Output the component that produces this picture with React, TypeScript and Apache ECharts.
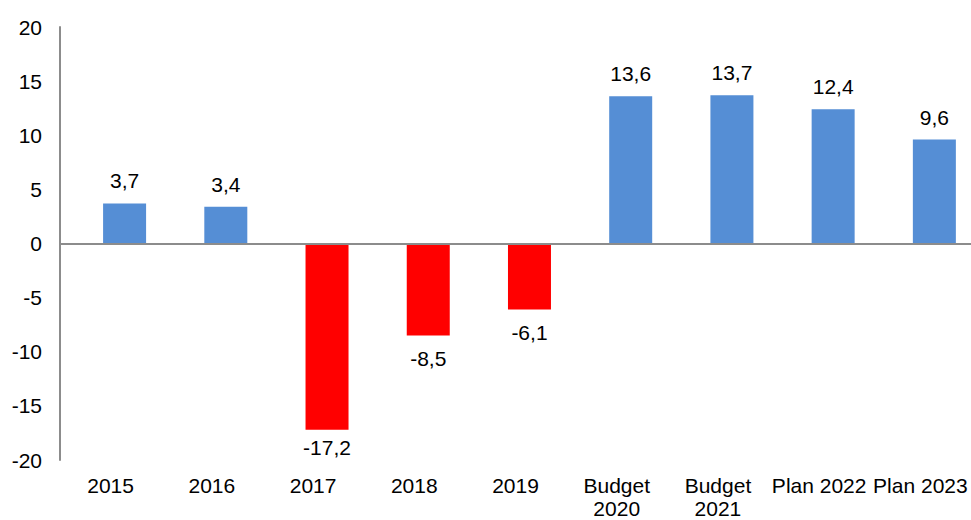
import React, { useEffect, useRef } from "react";
import * as echarts from "echarts";

const categories = ["2015", "2016", "2017", "2018", "2019", "Budget\n2020", "Budget\n2021", "Plan 2022", "Plan 2023"];
const values = [3.7, 3.4, -17.2, -8.5, -6.1, 13.6, 13.7, 12.4, 9.6];
const yMin = -20;
const yMax = 20;
const yInterval = 5;

const POS = "#558ED5";
const NEG = "#FF0000";
const FONT = "Liberation Sans, Arial, sans-serif";
const FS = 21;

export default function App() {
  const ref = useRef<HTMLDivElement>(null);
  useEffect(() => {
    if (!ref.current) return;
    const chart = echarts.init(ref.current, undefined, { renderer: "svg" });
    chart.setOption({
      animation: false,
      grid: { left: 60, right: 0, top: 27, bottom: 60, containLabel: false },
      xAxis: {
        type: "category",
        data: categories,
        axisLine: { show: false },
        axisTick: { show: false },
        axisLabel: {
          color: "#000",
          fontSize: FS,
          fontFamily: FONT,
          margin: 14,
          lineHeight: 23,
          interval: 0,
        },
      },
      yAxis: {
        type: "value",
        min: yMin,
        max: yMax,
        interval: yInterval,
        axisLine: { show: true, lineStyle: { color: "#8c8c8c", width: 2 } },
        axisTick: { show: false },
        splitLine: { show: false },
        axisLabel: { color: "#000", fontSize: FS, fontFamily: FONT, margin: 18 },
      },
      series: [
        {
          type: "bar",
          barWidth: 43,
          barGap: "-35%",
          data: values.map(() => "-"),
          silent: true,
        },
        {
          type: "bar",
          barWidth: 43,
          barGap: "-35%",
          data: values.map((v) => ({
            value: v,
            itemStyle: { color: v >= 0 ? POS : NEG },
            label: {
              show: true,
              position: v >= 0 ? "top" : "bottom",
              distance: v < -15 ? 7 : 12,
              color: "#000",
              fontSize: FS,
              fontFamily: FONT,
              formatter: () => v.toFixed(1).replace(".", ","),
            },
          })),
          markLine: {
            silent: true,
            symbol: "none",
            label: { show: false },
            lineStyle: { color: "#8c8c8c", width: 2, type: "solid" },
            data: [{ yAxis: 0 }],
          },
        },
      ],
    });
    return () => chart.dispose();
  }, []);
  return <div ref={ref} style={{ width: 971, height: 520, position: "absolute", left: 0, top: 0 }} />;
}
